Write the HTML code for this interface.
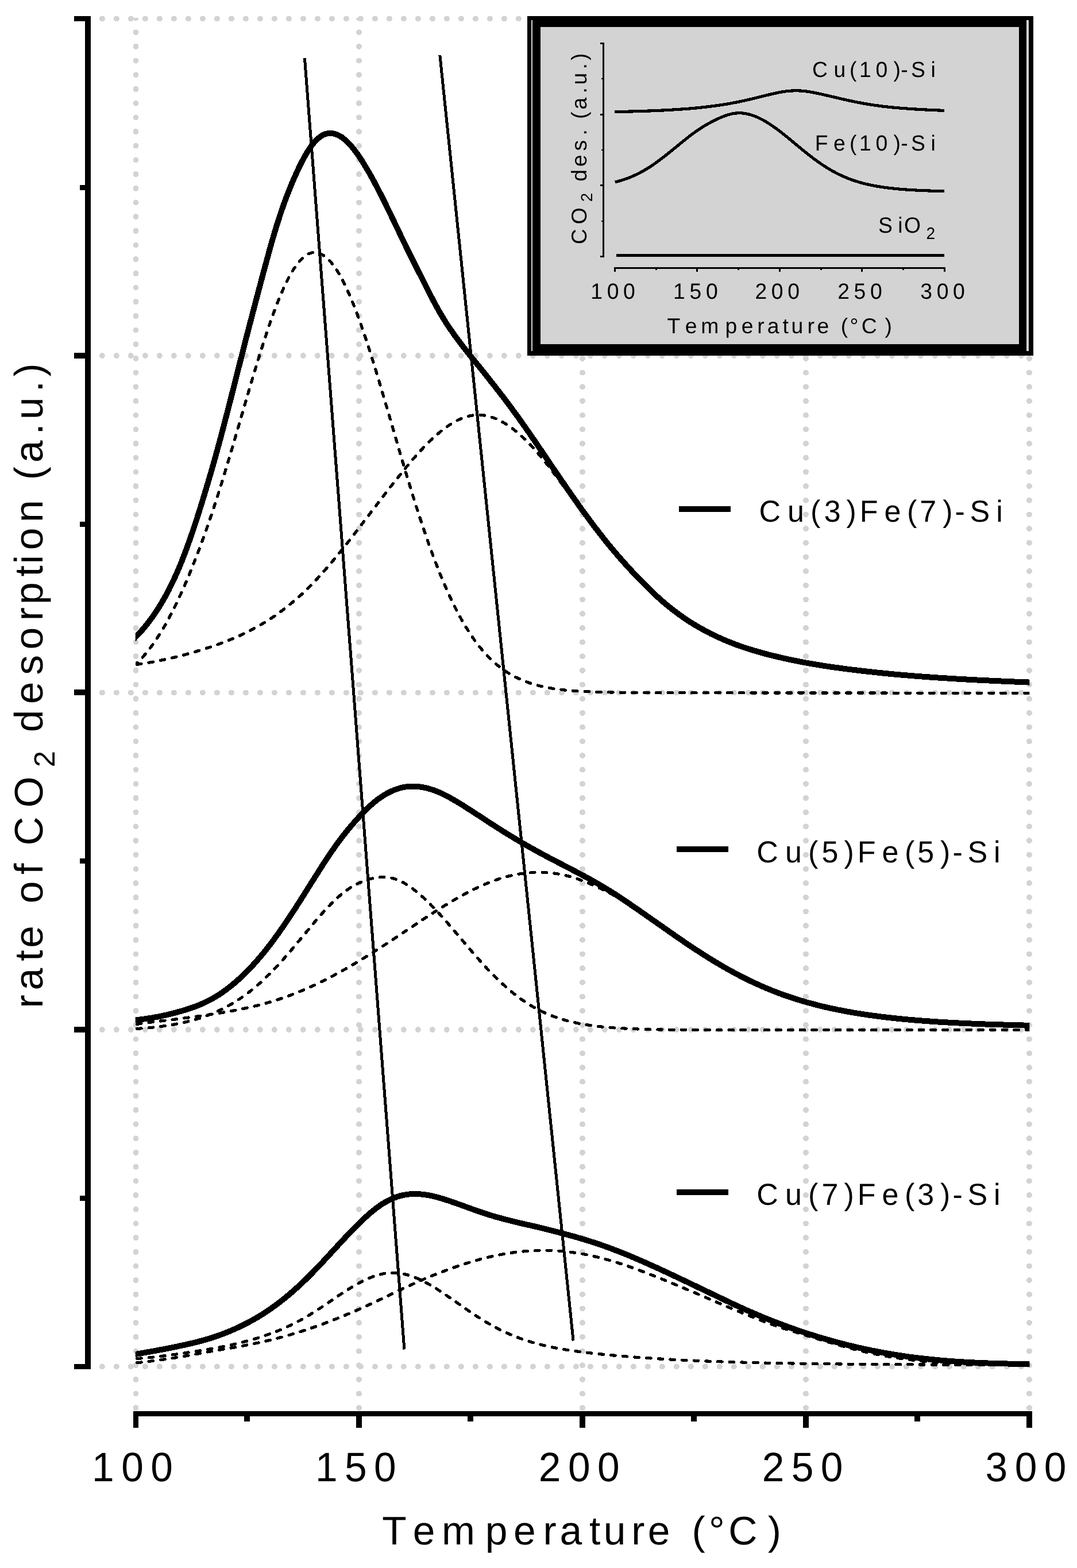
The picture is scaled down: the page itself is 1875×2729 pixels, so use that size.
<!DOCTYPE html>
<html lang="en"><head><meta charset="utf-8"><title>CO2 TPD</title>
<style>html,body{margin:0;padding:0;background:#fff}body{width:1875px;height:2729px;overflow:hidden}svg{display:block}text{white-space:pre;font-kerning:none;font-variant-ligatures:none;text-rendering:geometricPrecision}</style></head>
<body>
<svg width="1875" height="2729" viewBox="0 0 1875 2729" shape-rendering="crispEdges" role="img" aria-label="CO2 temperature-programmed desorption profiles">
<rect width="1875" height="2729" fill="#fff"/>
<defs><clipPath id="gc"><rect x="160" y="31" width="1700" height="2425"/></clipPath></defs>
<g fill="none" stroke="#d3d3d3" stroke-width="9.9" stroke-linecap="round">
<path d="M177.8 32.5H1792" stroke-dasharray="0 25"/>
<path d="M177.8 619.0H1792" stroke-dasharray="0 25"/>
<path d="M177.8 1205.5H1792" stroke-dasharray="0 25"/>
<path d="M177.8 1792.0H1792" stroke-dasharray="0 25"/>
<path d="M177.8 2378.4H1792" stroke-dasharray="0 25"/>
<g clip-path="url(#gc)">
<path d="M236.5 31.6V2456" stroke-dasharray="0 24.68"/>
<path d="M625.0 31.6V2456" stroke-dasharray="0 24.68"/>
<path d="M1014.0 31.6V2456" stroke-dasharray="0 24.68"/>
<path d="M1403.0 31.6V2456" stroke-dasharray="0 24.68"/>
<path d="M1791.9 31.6V2456" stroke-dasharray="0 24.68"/>
</g></g>
<g fill="none" stroke="#000">
<g stroke-width="5.2" stroke-dasharray="7.6 13.1" stroke-linecap="round">
<clipPath id="cc"><rect x="235.7" y="0" width="1556.6" height="2729"/></clipPath>
<g clip-path="url(#cc)">
<path id="top_d1" d="M238.5 1154.1C243.2 1149.5 247.9 1144.5 252.5 1139.0C257.2 1133.5 261.9 1127.4 266.6 1120.9C271.2 1114.3 275.9 1107.2 280.6 1099.5C285.3 1091.9 289.9 1083.7 294.6 1074.9C299.3 1066.1 304.0 1056.8 308.7 1047.0C313.3 1037.2 318.0 1026.8 322.7 1016.0C327.4 1005.1 332.0 993.8 336.7 981.9C341.4 970.1 346.1 957.9 350.8 945.2C355.4 932.5 360.1 919.4 364.8 905.7C369.5 892.1 374.1 877.8 378.8 863.2C383.5 848.5 388.2 833.4 392.8 817.9C397.5 802.5 402.2 786.7 406.9 770.8C411.6 754.8 416.2 738.7 420.9 722.6C425.6 706.5 430.3 690.3 434.9 674.4C439.6 658.5 444.3 642.9 449.0 627.6C453.7 612.3 458.3 597.5 463.0 583.3C467.7 569.1 472.4 555.6 477.0 542.9C481.7 530.3 486.4 518.5 491.1 507.7C495.7 497.0 500.4 487.3 505.1 478.9C509.8 470.5 514.5 463.2 519.1 457.4C523.8 451.6 528.5 447.1 533.2 444.1C537.8 441.0 542.5 439.5 547.2 439.4C551.9 439.3 556.5 440.6 561.2 443.3C565.9 446.0 570.6 450.0 575.3 455.3C579.9 460.6 584.6 467.2 589.3 475.0C594.0 482.8 598.6 491.8 603.3 501.8C608.0 511.9 612.7 523.0 617.4 535.0C622.0 546.9 626.7 559.8 631.4 573.4C636.1 587.0 640.7 601.2 645.4 616.0C650.1 630.8 654.8 646.1 659.4 661.7C664.1 677.3 668.8 693.2 673.5 709.3C678.2 725.3 682.8 741.4 687.5 757.5C692.2 773.6 696.9 789.7 701.5 805.5C706.2 821.3 710.9 836.9 715.6 852.1C720.2 867.3 724.9 882.2 729.6 896.7C734.3 911.1 739.0 925.1 743.6 938.5C748.3 951.9 753.0 964.8 757.7 977.1C762.3 989.4 767.0 1001.1 771.7 1012.2C776.4 1023.3 781.1 1033.8 785.7 1043.7C790.4 1053.6 795.1 1062.8 799.8 1071.5C804.4 1080.1 809.1 1088.2 813.8 1095.6C818.5 1103.1 823.1 1110.0 827.8 1116.4C832.5 1122.7 837.2 1128.6 841.9 1134.0C846.5 1139.3 851.2 1144.2 855.9 1148.7C860.6 1153.1 865.2 1157.1 869.9 1160.8C874.6 1164.4 879.3 1167.7 884.0 1170.7C888.6 1173.7 893.3 1176.3 898.0 1178.7C902.7 1181.0 907.3 1183.1 912.0 1185.0C916.7 1186.9 921.4 1188.5 926.0 1190.0C930.7 1191.5 935.4 1192.8 940.1 1193.9C944.8 1195.0 949.4 1196.0 954.1 1196.9C958.8 1197.8 963.5 1198.5 968.1 1199.2C972.8 1199.8 977.5 1200.4 982.2 1200.9C986.8 1201.4 991.5 1201.8 996.2 1202.2C1000.9 1202.5 1005.6 1202.9 1010.2 1203.1C1014.9 1203.4 1019.6 1203.6 1024.3 1203.8C1028.9 1204.0 1033.6 1204.2 1038.3 1204.4C1043.0 1204.5 1047.7 1204.6 1052.3 1204.7C1057.0 1204.8 1061.7 1204.9 1066.4 1205.0C1071.0 1205.1 1075.7 1205.1 1080.4 1205.2C1085.1 1205.3 1089.7 1205.3 1094.4 1205.3C1099.1 1205.4 1103.8 1205.4 1108.5 1205.5C1113.1 1205.5 1117.8 1205.5 1122.5 1205.5C1127.2 1205.6 1131.8 1205.6 1136.5 1205.6C1141.2 1205.6 1145.9 1205.6 1150.5 1205.6C1155.2 1205.7 1159.9 1205.7 1164.6 1205.7C1169.3 1205.7 1173.9 1205.7 1178.6 1205.7C1183.3 1205.7 1188.0 1205.7 1192.6 1205.7C1197.3 1205.7 1202.0 1205.8 1206.7 1205.8C1211.4 1205.8 1216.0 1205.8 1220.7 1205.8C1225.4 1205.8 1230.1 1205.8 1234.7 1205.8C1239.4 1205.8 1244.1 1205.8 1248.8 1205.8C1253.4 1205.8 1258.1 1205.8 1262.8 1205.8C1267.5 1205.8 1272.2 1205.8 1276.8 1205.8C1281.5 1205.8 1286.2 1205.8 1290.9 1205.9C1295.5 1205.9 1300.2 1205.9 1304.9 1205.9C1309.6 1205.9 1314.3 1205.9 1318.9 1205.9C1323.6 1205.9 1328.3 1205.9 1333.0 1205.9C1337.6 1205.9 1342.3 1205.9 1347.0 1205.9C1351.7 1205.9 1356.3 1205.9 1361.0 1205.9C1365.7 1205.9 1370.4 1205.9 1375.1 1205.9C1379.7 1205.9 1384.4 1205.9 1389.1 1205.9C1393.8 1205.9 1398.4 1205.9 1403.1 1205.9C1407.8 1206.0 1412.5 1206.0 1417.1 1206.0C1421.8 1206.0 1426.5 1206.0 1431.2 1206.0C1435.9 1206.0 1440.5 1206.0 1445.2 1206.0C1449.9 1206.0 1454.6 1206.0 1459.2 1206.0C1463.9 1206.0 1468.6 1206.0 1473.3 1206.0C1478.0 1206.0 1482.6 1206.0 1487.3 1206.0C1492.0 1206.0 1496.7 1206.0 1501.3 1206.0C1506.0 1206.0 1510.7 1206.0 1515.4 1206.0C1520.0 1206.0 1524.7 1206.0 1529.4 1206.0C1534.1 1206.1 1538.8 1206.1 1543.4 1206.1C1548.1 1206.1 1552.8 1206.1 1557.5 1206.1C1562.1 1206.1 1566.8 1206.1 1571.5 1206.1C1576.2 1206.1 1580.8 1206.1 1585.5 1206.1C1590.2 1206.1 1594.9 1206.1 1599.6 1206.1C1604.2 1206.1 1608.9 1206.1 1613.6 1206.1C1618.3 1206.1 1622.9 1206.1 1627.6 1206.1C1632.3 1206.1 1637.0 1206.1 1641.7 1206.1C1646.3 1206.1 1651.0 1206.1 1655.7 1206.2C1660.4 1206.2 1665.0 1206.2 1669.7 1206.2C1674.4 1206.2 1679.1 1206.2 1683.7 1206.2C1688.4 1206.2 1693.1 1206.2 1697.8 1206.2C1702.5 1206.2 1707.1 1206.2 1711.8 1206.2C1716.5 1206.2 1721.2 1206.2 1725.8 1206.2C1730.5 1206.2 1735.2 1206.2 1739.9 1206.2C1744.6 1206.2 1749.2 1206.2 1753.9 1206.2C1758.6 1206.2 1763.3 1206.2 1767.9 1206.2C1772.6 1206.2 1777.3 1206.2 1782.0 1206.3C1786.6 1206.3 1791.3 1206.3 1796.0 1206.3" stroke-dashoffset="6.50"/>
<path id="top_d2" d="M238.5 1156.4C243.2 1155.7 247.9 1155.1 252.6 1154.3C257.2 1153.6 261.9 1152.8 266.6 1152.0C271.3 1151.1 276.0 1150.1 280.6 1149.1C285.3 1148.2 290.0 1147.2 294.7 1146.1C299.4 1145.1 304.1 1144.0 308.8 1142.9C313.4 1141.7 318.1 1140.5 322.8 1139.2C327.5 1137.9 332.2 1136.6 336.9 1135.2C341.5 1133.8 346.2 1132.4 350.9 1131.0C355.6 1129.5 360.3 1128.0 364.9 1126.5C369.6 1124.9 374.3 1123.4 379.0 1121.7C383.7 1120.0 388.4 1118.3 393.1 1116.5C397.7 1114.6 402.4 1112.7 407.1 1110.8C411.8 1108.8 416.5 1106.7 421.1 1104.5C425.8 1102.3 430.5 1100.0 435.2 1097.6C439.9 1095.2 444.6 1092.7 449.2 1090.1C453.9 1087.4 458.6 1084.7 463.3 1081.7C468.0 1078.8 472.7 1075.8 477.4 1072.6C482.0 1069.4 486.7 1066.0 491.4 1062.5C496.1 1059.0 500.8 1055.3 505.4 1051.5C510.1 1047.6 514.8 1043.6 519.5 1039.5C524.2 1035.3 528.9 1030.9 533.5 1026.3C538.2 1021.8 542.9 1017.0 547.6 1012.1C552.3 1007.2 557.0 1002.1 561.7 996.8C566.3 991.6 571.0 986.2 575.7 980.6C580.4 975.1 585.1 969.5 589.8 963.7C594.4 957.9 599.1 952.1 603.8 946.2C608.5 940.2 613.2 934.2 617.9 928.2C622.5 922.1 627.2 916.0 631.9 909.9C636.6 903.8 641.3 897.6 646.0 891.5C650.6 885.3 655.3 879.2 660.0 873.1C664.7 866.9 669.4 860.8 674.0 854.8C678.7 848.8 683.4 842.8 688.1 836.9C692.8 830.9 697.5 825.1 702.2 819.4C706.8 813.6 711.5 808.0 716.2 802.5C720.9 797.1 725.6 791.7 730.2 786.6C734.9 781.5 739.6 776.5 744.3 771.8C749.0 767.1 753.7 762.7 758.4 758.5C763.0 754.3 767.7 750.4 772.4 746.8C777.1 743.2 781.8 740.0 786.5 737.1C791.1 734.2 795.8 731.7 800.5 729.6C805.2 727.5 809.9 725.8 814.6 724.6C819.2 723.4 823.9 722.6 828.6 722.4C833.3 722.1 838.0 722.3 842.6 723.0C847.3 723.6 852.0 724.8 856.7 726.3C861.4 727.9 866.1 729.9 870.8 732.3C875.4 734.7 880.1 737.5 884.8 740.6C889.5 743.8 894.2 747.3 898.9 751.2C903.5 755.0 908.2 759.2 912.9 763.6C917.6 768.0 922.3 772.8 927.0 777.8C931.6 782.9 936.3 788.4 941.0 794.1C945.7 799.8 950.4 805.3 955.1 811.5C959.7 817.6 964.4 823.8 969.1 830.1C973.8 836.4 978.5 842.8 983.2 849.1C987.8 855.4 992.5 861.8 997.2 868.1C1001.9 874.4 1006.6 880.7 1011.2 886.9C1015.9 893.2 1020.6 899.4 1025.3 905.5C1030.0 911.7 1034.7 917.7 1039.3 923.7C1044.0 929.6 1048.7 935.5 1053.4 941.2C1058.1 947.0 1062.8 952.6 1067.5 958.1C1072.1 963.6 1076.8 969.0 1081.5 974.2C1086.2 979.5 1090.9 984.6 1095.6 989.7C1100.2 994.7 1104.9 999.6 1109.6 1004.5C1114.3 1009.3 1119.0 1014.0 1123.7 1018.7C1128.3 1023.3 1133.0 1027.9 1137.7 1032.3C1142.4 1036.8 1147.1 1041.1 1151.8 1045.2C1156.4 1049.4 1161.1 1053.3 1165.8 1057.0C1170.5 1060.8 1175.2 1064.4 1179.8 1067.8C1184.5 1071.2 1189.2 1074.5 1193.9 1077.6C1198.6 1080.8 1203.3 1083.7 1208.0 1086.6C1212.6 1089.4 1217.3 1092.2 1222.0 1094.7C1226.7 1097.3 1231.4 1099.8 1236.1 1102.2C1240.7 1104.5 1245.4 1106.8 1250.1 1108.9C1254.8 1111.1 1259.5 1113.1 1264.2 1115.1C1268.8 1117.0 1273.5 1118.9 1278.2 1120.7C1282.9 1122.4 1287.6 1124.1 1292.2 1125.7C1296.9 1127.3 1301.6 1128.8 1306.3 1130.3C1311.0 1131.7 1315.7 1133.1 1320.4 1134.5C1325.0 1135.8 1329.7 1137.1 1334.4 1138.3C1339.1 1139.5 1343.8 1140.7 1348.5 1141.8C1353.1 1143.0 1357.8 1144.1 1362.5 1145.1C1367.2 1146.2 1371.9 1147.2 1376.5 1148.2C1381.2 1149.2 1385.9 1150.1 1390.6 1151.0C1395.3 1151.9 1400.0 1152.8 1404.7 1153.6C1409.3 1154.5 1414.0 1155.3 1418.7 1156.1C1423.4 1156.9 1428.1 1157.6 1432.8 1158.3C1437.4 1159.1 1442.1 1159.8 1446.8 1160.5C1451.5 1161.1 1456.2 1161.8 1460.9 1162.4C1465.5 1163.1 1470.2 1163.7 1474.9 1164.3C1479.6 1164.9 1484.3 1165.4 1489.0 1166.0C1493.6 1166.6 1498.3 1167.1 1503.0 1167.6C1507.7 1168.2 1512.4 1168.7 1517.0 1169.2C1521.7 1169.7 1526.4 1170.2 1531.1 1170.7C1535.8 1171.2 1540.5 1171.7 1545.2 1172.1C1549.8 1172.6 1554.5 1173.0 1559.2 1173.4C1563.9 1173.9 1568.6 1174.3 1573.2 1174.7C1577.9 1175.1 1582.6 1175.5 1587.3 1175.8C1592.0 1176.2 1596.7 1176.6 1601.4 1176.9C1606.0 1177.3 1610.7 1177.6 1615.4 1178.0C1620.1 1178.3 1624.8 1178.6 1629.5 1178.9C1634.1 1179.3 1638.8 1179.6 1643.5 1179.9C1648.2 1180.1 1652.9 1180.4 1657.6 1180.7C1662.2 1181.0 1666.9 1181.3 1671.6 1181.5C1676.3 1181.8 1681.0 1182.1 1685.7 1182.3C1690.3 1182.6 1695.0 1182.8 1699.7 1183.0C1704.4 1183.3 1709.1 1183.5 1713.8 1183.7C1718.4 1184.0 1723.1 1184.2 1727.8 1184.4C1732.5 1184.6 1737.2 1184.8 1741.9 1185.0C1746.5 1185.2 1751.2 1185.5 1755.9 1185.7C1760.6 1185.8 1765.3 1186.0 1770.0 1186.2C1774.6 1186.4 1779.3 1186.6 1784.0 1186.8"/>
<path id="mid_d1" d="M238.5 1790.4C243.2 1790.1 247.9 1789.7 252.5 1789.4C257.2 1789.0 261.9 1788.5 266.6 1788.1C271.2 1787.6 275.9 1787.0 280.6 1786.4C285.3 1785.8 289.9 1785.1 294.6 1784.4C299.3 1783.7 304.0 1782.8 308.7 1781.9C313.3 1781.0 318.0 1780.0 322.7 1778.9C327.4 1777.8 332.0 1776.7 336.7 1775.3C341.4 1774.0 346.1 1772.6 350.8 1771.1C355.4 1769.5 360.1 1767.8 364.8 1766.0C369.5 1764.1 374.1 1762.2 378.8 1760.0C383.5 1757.9 388.2 1755.6 392.8 1753.1C397.5 1750.6 402.2 1748.0 406.9 1745.1C411.6 1742.3 416.2 1739.3 420.9 1736.1C425.6 1732.8 430.3 1729.4 434.9 1725.7C439.6 1722.1 444.3 1718.2 449.0 1714.1C453.7 1710.1 458.3 1705.8 463.0 1701.3C467.7 1696.7 472.4 1692.0 477.0 1687.1C481.7 1682.3 486.4 1677.2 491.1 1672.0C495.7 1666.7 500.4 1661.4 505.1 1655.9C509.8 1650.4 514.5 1644.9 519.1 1639.2C523.8 1633.6 528.5 1627.9 533.2 1622.3C537.8 1616.7 542.5 1611.0 547.2 1605.5C551.9 1600.0 556.5 1594.6 561.2 1589.4C565.9 1584.1 570.6 1579.1 575.3 1574.4C579.9 1569.6 584.6 1565.1 589.3 1560.9C594.0 1556.8 598.6 1553.0 603.3 1549.6C608.0 1546.2 612.7 1543.2 617.4 1540.6C622.0 1538.1 626.7 1535.9 631.4 1534.1C636.1 1532.2 640.7 1530.7 645.4 1529.5C650.1 1528.3 654.8 1527.4 659.4 1526.9C664.1 1526.5 668.8 1526.4 673.5 1526.8C678.2 1527.2 682.8 1528.2 687.5 1529.7C692.2 1531.2 696.9 1533.2 701.5 1535.8C706.2 1538.3 710.9 1541.3 715.6 1544.6C720.2 1548.0 724.9 1551.7 729.6 1555.7C734.3 1559.7 739.0 1564.0 743.6 1568.4C748.3 1572.9 753.0 1577.6 757.7 1582.6C762.3 1587.5 767.0 1592.6 771.7 1597.9C776.4 1603.1 781.1 1608.5 785.7 1614.0C790.4 1619.4 795.1 1625.0 799.8 1630.5C804.4 1636.1 809.1 1641.6 813.8 1647.1C818.5 1652.6 823.1 1658.0 827.8 1663.4C832.5 1668.7 837.2 1674.0 841.9 1679.1C846.5 1684.2 851.2 1689.2 855.9 1694.0C860.6 1698.8 865.2 1703.4 869.9 1707.8C874.6 1712.2 879.3 1716.5 884.0 1720.5C888.6 1724.6 893.3 1728.4 898.0 1732.0C902.7 1735.6 907.3 1739.0 912.0 1742.2C916.7 1745.4 921.4 1748.3 926.0 1751.1C930.7 1753.9 935.4 1756.4 940.1 1758.8C944.8 1761.1 949.4 1763.3 954.1 1765.2C958.8 1767.2 963.5 1769.0 968.1 1770.6C972.8 1772.2 977.5 1773.7 982.2 1775.0C986.8 1776.4 991.5 1777.6 996.2 1778.7C1000.9 1779.8 1005.6 1780.8 1010.2 1781.7C1014.9 1782.6 1019.6 1783.4 1024.3 1784.1C1028.9 1784.8 1033.6 1785.5 1038.3 1786.0C1043.0 1786.6 1047.7 1787.1 1052.3 1787.6C1057.0 1788.0 1061.7 1788.4 1066.4 1788.7C1071.0 1789.1 1075.7 1789.4 1080.4 1789.6C1085.1 1789.9 1089.7 1790.1 1094.4 1790.4C1099.1 1790.6 1103.8 1790.8 1108.5 1790.9C1113.1 1791.1 1117.8 1791.3 1122.5 1791.4C1127.2 1791.5 1131.8 1791.6 1136.5 1791.7C1141.2 1791.8 1145.9 1791.9 1150.5 1792.0C1155.2 1792.1 1159.9 1792.1 1164.6 1792.2C1169.3 1792.2 1173.9 1792.3 1178.6 1792.3C1183.3 1792.4 1188.0 1792.4 1192.6 1792.4C1197.3 1792.5 1202.0 1792.5 1206.7 1792.5C1211.4 1792.5 1216.0 1792.6 1220.7 1792.6C1225.4 1792.6 1230.1 1792.6 1234.7 1792.6C1239.4 1792.6 1244.1 1792.6 1248.8 1792.6C1253.4 1792.6 1258.1 1792.7 1262.8 1792.7C1267.5 1792.7 1272.2 1792.7 1276.8 1792.7C1281.5 1792.7 1286.2 1792.7 1290.9 1792.7C1295.5 1792.7 1300.2 1792.7 1304.9 1792.7C1309.6 1792.7 1314.3 1792.7 1318.9 1792.7C1323.6 1792.7 1328.3 1792.7 1333.0 1792.7C1337.6 1792.7 1342.3 1792.7 1347.0 1792.7C1351.7 1792.7 1356.3 1792.7 1361.0 1792.7C1365.7 1792.7 1370.4 1792.7 1375.1 1792.6C1379.7 1792.6 1384.4 1792.6 1389.1 1792.6C1393.8 1792.6 1398.4 1792.6 1403.1 1792.6C1407.8 1792.6 1412.5 1792.6 1417.1 1792.6C1421.8 1792.6 1426.5 1792.6 1431.2 1792.6C1435.9 1792.6 1440.5 1792.6 1445.2 1792.6C1449.9 1792.6 1454.6 1792.6 1459.2 1792.6C1463.9 1792.6 1468.6 1792.6 1473.3 1792.6C1478.0 1792.6 1482.6 1792.6 1487.3 1792.6C1492.0 1792.6 1496.7 1792.6 1501.3 1792.6C1506.0 1792.6 1510.7 1792.6 1515.4 1792.6C1520.0 1792.6 1524.7 1792.6 1529.4 1792.6C1534.1 1792.5 1538.8 1792.5 1543.4 1792.5C1548.1 1792.5 1552.8 1792.5 1557.5 1792.5C1562.1 1792.5 1566.8 1792.5 1571.5 1792.5C1576.2 1792.5 1580.8 1792.5 1585.5 1792.5C1590.2 1792.5 1594.9 1792.5 1599.6 1792.5C1604.2 1792.5 1608.9 1792.5 1613.6 1792.5C1618.3 1792.5 1622.9 1792.5 1627.6 1792.5C1632.3 1792.5 1637.0 1792.5 1641.7 1792.5C1646.3 1792.5 1651.0 1792.5 1655.7 1792.5C1660.4 1792.5 1665.0 1792.5 1669.7 1792.5C1674.4 1792.5 1679.1 1792.5 1683.7 1792.4C1688.4 1792.4 1693.1 1792.4 1697.8 1792.4C1702.5 1792.4 1707.1 1792.4 1711.8 1792.4C1716.5 1792.4 1721.2 1792.4 1725.8 1792.4C1730.5 1792.4 1735.2 1792.4 1739.9 1792.4C1744.6 1792.4 1749.2 1792.4 1753.9 1792.4C1758.6 1792.4 1763.3 1792.4 1767.9 1792.4C1772.6 1792.4 1777.3 1792.4 1782.0 1792.4C1786.6 1792.4 1791.3 1792.4 1796.0 1792.4"/>
<path id="mid_d2" d="M238.5 1782.4C243.2 1781.6 247.9 1781.0 252.6 1780.3C257.2 1779.7 261.9 1779.2 266.6 1778.6C271.3 1778.0 276.0 1777.5 280.6 1776.9C285.3 1776.4 290.0 1775.8 294.7 1775.2C299.4 1774.7 304.1 1774.1 308.8 1773.5C313.4 1772.9 318.1 1772.3 322.8 1771.7C327.5 1771.1 332.2 1770.5 336.9 1769.8C341.5 1769.2 346.2 1768.5 350.9 1767.9C355.6 1767.2 360.3 1766.5 364.9 1765.8C369.6 1765.1 374.3 1764.4 379.0 1763.6C383.7 1762.9 388.4 1762.1 393.1 1761.3C397.7 1760.5 402.4 1759.7 407.1 1758.8C411.8 1757.9 416.5 1757.0 421.1 1756.0C425.8 1755.1 430.5 1754.1 435.2 1753.0C439.9 1751.9 444.6 1750.8 449.2 1749.7C453.9 1748.5 458.6 1747.2 463.3 1745.9C468.0 1744.6 472.7 1743.2 477.4 1741.8C482.0 1740.3 486.7 1738.8 491.4 1737.2C496.1 1735.6 500.8 1733.9 505.4 1732.2C510.1 1730.4 514.8 1728.6 519.5 1726.7C524.2 1724.8 528.9 1722.9 533.5 1720.8C538.2 1718.8 542.9 1716.6 547.6 1714.5C552.3 1712.3 557.0 1710.0 561.7 1707.7C566.3 1705.3 571.0 1702.9 575.7 1700.5C580.4 1698.0 585.1 1695.5 589.8 1692.9C594.4 1690.4 599.1 1687.7 603.8 1685.1C608.5 1682.4 613.2 1679.6 617.9 1676.9C622.5 1674.1 627.2 1671.3 631.9 1668.4C636.6 1665.5 641.3 1662.6 646.0 1659.7C650.6 1656.8 655.3 1653.8 660.0 1650.8C664.7 1647.8 669.4 1644.8 674.0 1641.7C678.7 1638.6 683.4 1635.6 688.1 1632.5C692.8 1629.4 697.5 1626.2 702.2 1623.1C706.8 1620.0 711.5 1616.8 716.2 1613.7C720.9 1610.6 725.6 1607.5 730.2 1604.3C734.9 1601.2 739.6 1598.1 744.3 1595.1C749.0 1592.0 753.7 1589.0 758.4 1586.0C763.0 1583.0 767.7 1580.1 772.4 1577.2C777.1 1574.3 781.8 1571.5 786.5 1568.7C791.1 1566.0 795.8 1563.3 800.5 1560.7C805.2 1558.0 809.9 1555.5 814.6 1553.1C819.2 1550.6 823.9 1548.3 828.6 1546.1C833.3 1543.8 838.0 1541.7 842.6 1539.7C847.3 1537.7 852.0 1535.8 856.7 1534.0C861.4 1532.3 866.1 1530.6 870.8 1529.1C875.4 1527.7 880.1 1526.3 884.8 1525.1C889.5 1524.0 894.2 1522.9 898.9 1522.0C903.5 1521.1 908.2 1520.4 912.9 1519.8C917.6 1519.3 922.3 1518.9 927.0 1518.6C931.6 1518.3 936.3 1518.2 941.0 1518.3C945.7 1518.4 950.4 1518.6 955.1 1519.0C959.7 1519.4 964.4 1519.9 969.1 1520.6C973.8 1521.4 978.5 1522.3 983.2 1523.3C987.8 1524.4 992.5 1525.6 997.2 1527.0C1001.9 1528.4 1006.6 1530.0 1011.2 1531.8C1015.9 1533.5 1020.6 1535.5 1025.3 1537.4C1030.0 1539.4 1034.7 1541.4 1039.3 1543.5C1044.0 1545.6 1048.7 1547.7 1053.4 1550.1C1058.1 1552.4 1062.8 1555.0 1067.5 1557.6C1072.1 1560.3 1076.8 1563.1 1081.5 1565.9C1086.2 1568.8 1090.9 1571.8 1095.6 1574.7C1100.2 1577.7 1104.9 1580.8 1109.6 1583.8C1114.3 1586.9 1119.0 1590.0 1123.7 1593.2C1128.3 1596.3 1133.0 1599.5 1137.7 1602.7C1142.4 1605.8 1147.1 1609.0 1151.8 1612.3C1156.4 1615.5 1161.1 1618.7 1165.8 1621.9C1170.5 1625.1 1175.2 1628.3 1179.8 1631.5C1184.5 1634.7 1189.2 1637.8 1193.9 1641.0C1198.6 1644.1 1203.3 1647.2 1208.0 1650.3C1212.6 1653.4 1217.3 1656.4 1222.0 1659.4C1226.7 1662.4 1231.4 1665.3 1236.1 1668.2C1240.7 1671.1 1245.4 1674.0 1250.1 1676.7C1254.8 1679.5 1259.5 1682.2 1264.2 1684.9C1268.8 1687.5 1273.5 1690.1 1278.2 1692.7C1282.9 1695.2 1287.6 1697.6 1292.2 1700.0C1296.9 1702.4 1301.6 1704.7 1306.3 1707.0C1311.0 1709.2 1315.7 1711.4 1320.4 1713.5C1325.0 1715.6 1329.7 1717.6 1334.4 1719.6C1339.1 1721.6 1343.8 1723.4 1348.5 1725.3C1353.1 1727.1 1357.8 1728.9 1362.5 1730.6C1367.2 1732.2 1371.9 1733.9 1376.5 1735.4C1381.2 1737.0 1385.9 1738.5 1390.6 1739.9C1395.3 1741.4 1400.0 1742.8 1404.7 1744.1C1409.3 1745.4 1414.0 1746.7 1418.7 1747.9C1423.4 1749.1 1428.1 1750.3 1432.8 1751.4C1437.4 1752.5 1442.1 1753.6 1446.8 1754.6C1451.5 1755.7 1456.2 1756.6 1460.9 1757.6C1465.5 1758.5 1470.2 1759.4 1474.9 1760.3C1479.6 1761.1 1484.3 1761.9 1489.0 1762.7C1493.6 1763.5 1498.3 1764.3 1503.0 1765.0C1507.7 1765.7 1512.4 1766.4 1517.0 1767.0C1521.7 1767.7 1526.4 1768.3 1531.1 1768.9C1535.8 1769.5 1540.5 1770.0 1545.2 1770.6C1549.8 1771.1 1554.5 1771.6 1559.2 1772.1C1563.9 1772.6 1568.6 1773.1 1573.2 1773.6C1577.9 1774.0 1582.6 1774.4 1587.3 1774.8C1592.0 1775.3 1596.7 1775.6 1601.4 1776.0C1606.0 1776.4 1610.7 1776.7 1615.4 1777.1C1620.1 1777.4 1624.8 1777.7 1629.5 1778.1C1634.1 1778.4 1638.8 1778.7 1643.5 1778.9C1648.2 1779.2 1652.9 1779.5 1657.6 1779.7C1662.2 1780.0 1666.9 1780.3 1671.6 1780.5C1676.3 1780.7 1681.0 1780.9 1685.7 1781.2C1690.3 1781.4 1695.0 1781.6 1699.7 1781.8C1704.4 1782.0 1709.1 1782.1 1713.8 1782.3C1718.4 1782.5 1723.1 1782.7 1727.8 1782.8C1732.5 1783.0 1737.2 1783.1 1741.9 1783.3C1746.5 1783.4 1751.2 1783.6 1755.9 1783.7C1760.6 1783.8 1765.3 1784.0 1770.0 1784.1C1774.6 1784.2 1779.3 1784.3 1784.0 1784.4"/>
<path id="bot_d1" d="M238.5 2364.5C243.2 2364.2 247.9 2363.9 252.5 2363.5C257.2 2363.1 261.9 2362.6 266.6 2362.1C271.2 2361.6 275.9 2361.1 280.6 2360.5C285.3 2359.9 289.9 2359.3 294.6 2358.7C299.3 2358.0 304.0 2357.4 308.7 2356.7C313.3 2356.0 318.0 2355.3 322.7 2354.7C327.4 2354.0 332.0 2353.3 336.7 2352.6C341.4 2351.9 346.1 2351.2 350.8 2350.4C355.4 2349.7 360.1 2348.9 364.8 2348.1C369.5 2347.3 374.1 2346.4 378.8 2345.5C383.5 2344.6 388.2 2343.7 392.8 2342.7C397.5 2341.8 402.2 2340.7 406.9 2339.7C411.6 2338.6 416.2 2337.5 420.9 2336.3C425.6 2335.2 430.3 2333.9 434.9 2332.6C439.6 2331.3 444.3 2329.9 449.0 2328.5C453.7 2327.0 458.3 2325.5 463.0 2323.9C467.7 2322.3 472.4 2320.6 477.0 2318.8C481.7 2317.1 486.4 2315.2 491.1 2313.2C495.7 2311.2 500.4 2309.1 505.1 2306.9C509.8 2304.6 514.5 2302.3 519.1 2299.8C523.8 2297.3 528.5 2294.7 533.2 2291.9C537.8 2289.2 542.5 2286.3 547.2 2283.4C551.9 2280.4 556.5 2277.3 561.2 2274.2C565.9 2271.1 570.6 2267.9 575.3 2264.7C579.9 2261.5 584.6 2258.3 589.3 2255.1C594.0 2252.0 598.6 2248.9 603.3 2245.9C608.0 2243.0 612.7 2240.1 617.4 2237.4C622.0 2234.7 626.7 2232.1 631.4 2229.7C636.1 2227.4 640.7 2225.3 645.4 2223.4C650.1 2221.5 654.8 2219.9 659.4 2218.7C664.1 2217.4 668.8 2216.5 673.5 2215.9C678.2 2215.4 682.8 2215.2 687.5 2215.4C692.2 2215.6 696.9 2216.1 701.5 2217.0C706.2 2217.9 710.9 2219.2 715.6 2220.8C720.2 2222.3 724.9 2224.2 729.6 2226.3C734.3 2228.4 739.0 2230.8 743.6 2233.4C748.3 2235.9 753.0 2238.7 757.7 2241.6C762.3 2244.5 767.0 2247.6 771.7 2250.7C776.4 2253.9 781.1 2257.1 785.7 2260.4C790.4 2263.6 795.1 2266.9 799.8 2270.2C804.4 2273.5 809.1 2276.7 813.8 2279.9C818.5 2283.2 823.1 2286.3 827.8 2289.4C832.5 2292.4 837.2 2295.4 841.9 2298.3C846.5 2301.1 851.2 2303.9 855.9 2306.5C860.6 2309.1 865.2 2311.6 869.9 2313.9C874.6 2316.3 879.3 2318.5 884.0 2320.6C888.6 2322.7 893.3 2324.6 898.0 2326.5C902.7 2328.3 907.3 2330.0 912.0 2331.6C916.7 2333.2 921.4 2334.7 926.0 2336.1C930.7 2337.4 935.4 2338.7 940.1 2339.9C944.8 2341.1 949.4 2342.2 954.1 2343.2C958.8 2344.3 963.5 2345.2 968.1 2346.1C972.8 2347.0 977.5 2347.8 982.2 2348.6C986.8 2349.4 991.5 2350.1 996.2 2350.8C1000.9 2351.5 1005.6 2352.1 1010.2 2352.7C1014.9 2353.3 1019.6 2353.9 1024.3 2354.5C1028.9 2355.0 1033.6 2355.5 1038.3 2356.0C1043.0 2356.6 1047.7 2357.0 1052.3 2357.5C1057.0 2358.0 1061.7 2358.4 1066.4 2358.8C1071.0 2359.2 1075.7 2359.7 1080.4 2360.1C1085.1 2360.5 1089.7 2360.8 1094.4 2361.2C1099.1 2361.6 1103.8 2361.9 1108.5 2362.3C1113.1 2362.6 1117.8 2363.0 1122.5 2363.3C1127.2 2363.6 1131.8 2363.9 1136.5 2364.2C1141.2 2364.5 1145.9 2364.8 1150.5 2365.1C1155.2 2365.4 1159.9 2365.6 1164.6 2365.9C1169.3 2366.2 1173.9 2366.4 1178.6 2366.7C1183.3 2366.9 1188.0 2367.1 1192.6 2367.4C1197.3 2367.6 1202.0 2367.8 1206.7 2368.0C1211.4 2368.2 1216.0 2368.4 1220.7 2368.6C1225.4 2368.8 1230.1 2369.0 1234.7 2369.2C1239.4 2369.4 1244.1 2369.6 1248.8 2369.7C1253.4 2369.9 1258.1 2370.0 1262.8 2370.2C1267.5 2370.4 1272.2 2370.5 1276.8 2370.6C1281.5 2370.8 1286.2 2370.9 1290.9 2371.0C1295.5 2371.2 1300.2 2371.3 1304.9 2371.4C1309.6 2371.5 1314.3 2371.7 1318.9 2371.8C1323.6 2371.9 1328.3 2372.0 1333.0 2372.1C1337.6 2372.2 1342.3 2372.3 1347.0 2372.4C1351.7 2372.5 1356.3 2372.5 1361.0 2372.6C1365.7 2372.7 1370.4 2372.8 1375.1 2372.9C1379.7 2372.9 1384.4 2373.0 1389.1 2373.1C1393.8 2373.1 1398.4 2373.2 1403.1 2373.3C1407.8 2373.3 1412.5 2373.4 1417.1 2373.5C1421.8 2373.5 1426.5 2373.6 1431.2 2373.6C1435.9 2373.7 1440.5 2373.7 1445.2 2373.8C1449.9 2373.8 1454.6 2373.9 1459.2 2373.9C1463.9 2374.0 1468.6 2374.0 1473.3 2374.1C1478.0 2374.1 1482.6 2374.2 1487.3 2374.2C1492.0 2374.2 1496.7 2374.3 1501.3 2374.3C1506.0 2374.3 1510.7 2374.4 1515.4 2374.4C1520.0 2374.5 1524.7 2374.5 1529.4 2374.5C1534.1 2374.5 1538.8 2374.6 1543.4 2374.6C1548.1 2374.6 1552.8 2374.7 1557.5 2374.7C1562.1 2374.7 1566.8 2374.8 1571.5 2374.8C1576.2 2374.8 1580.8 2374.8 1585.5 2374.9C1590.2 2374.9 1594.9 2374.9 1599.6 2374.9C1604.2 2375.0 1608.9 2375.0 1613.6 2375.0C1618.3 2375.0 1622.9 2375.1 1627.6 2375.1C1632.3 2375.1 1637.0 2375.1 1641.7 2375.2C1646.3 2375.2 1651.0 2375.2 1655.7 2375.2C1660.4 2375.3 1665.0 2375.3 1669.7 2375.3C1674.4 2375.3 1679.1 2375.4 1683.7 2375.4C1688.4 2375.4 1693.1 2375.4 1697.8 2375.4C1702.5 2375.5 1707.1 2375.5 1711.8 2375.5C1716.5 2375.5 1721.2 2375.5 1725.8 2375.6C1730.5 2375.6 1735.2 2375.6 1739.9 2375.6C1744.6 2375.6 1749.2 2375.7 1753.9 2375.7C1758.6 2375.7 1763.3 2375.7 1767.9 2375.8C1772.6 2375.8 1777.3 2375.8 1782.0 2375.8C1786.6 2375.8 1791.3 2375.9 1796.0 2375.9"/>
<path id="bot_d2" d="M238.5 2371.7C243.2 2371.3 247.9 2370.8 252.5 2370.2C257.2 2369.7 261.9 2369.1 266.6 2368.5C271.2 2367.9 275.9 2367.3 280.6 2366.7C285.3 2366.0 289.9 2365.3 294.6 2364.6C299.3 2363.9 304.0 2363.2 308.7 2362.4C313.3 2361.7 318.0 2360.9 322.7 2360.1C327.4 2359.3 332.0 2358.4 336.7 2357.6C341.4 2356.7 346.1 2355.8 350.8 2354.9C355.4 2354.0 360.1 2353.2 364.8 2352.3C369.5 2351.5 374.1 2350.7 378.8 2349.9C383.5 2349.1 388.2 2348.3 392.8 2347.5C397.5 2346.7 402.2 2346.0 406.9 2345.2C411.6 2344.3 416.2 2343.5 420.9 2342.7C425.6 2341.8 430.3 2340.9 434.9 2340.0C439.6 2339.1 444.3 2338.1 449.0 2337.1C453.7 2336.1 458.3 2335.1 463.0 2334.0C467.7 2332.9 472.4 2331.8 477.0 2330.6C481.7 2329.4 486.4 2328.2 491.1 2327.0C495.7 2325.7 500.4 2324.4 505.1 2323.1C509.8 2321.7 514.5 2320.3 519.1 2318.9C523.8 2317.4 528.5 2315.9 533.2 2314.4C537.8 2312.8 542.5 2311.2 547.2 2309.6C551.9 2308.0 556.5 2306.3 561.2 2304.6C565.9 2302.9 570.6 2301.1 575.3 2299.3C579.9 2297.5 584.6 2295.7 589.3 2293.8C594.0 2291.9 598.6 2290.0 603.3 2288.0C608.0 2286.1 612.7 2284.1 617.4 2282.1C622.0 2280.0 626.7 2278.0 631.4 2275.9C636.1 2273.8 640.7 2271.6 645.4 2269.5C650.1 2267.3 654.8 2265.1 659.4 2262.9C664.1 2260.7 668.8 2258.4 673.5 2256.2C678.2 2253.9 682.8 2251.7 687.5 2249.5C692.2 2247.2 696.9 2245.0 701.5 2242.8C706.2 2240.6 710.9 2238.4 715.6 2236.3C720.2 2234.1 724.9 2232.0 729.6 2230.0C734.3 2227.9 739.0 2225.9 743.6 2223.9C748.3 2222.0 753.0 2220.1 757.7 2218.2C762.3 2216.3 767.0 2214.5 771.7 2212.8C776.4 2211.0 781.1 2209.3 785.7 2207.6C790.4 2205.9 795.1 2204.3 799.8 2202.7C804.4 2201.2 809.1 2199.6 813.8 2198.2C818.5 2196.7 823.1 2195.3 827.8 2194.0C832.5 2192.7 837.2 2191.4 841.9 2190.2C846.5 2189.0 851.2 2187.9 855.9 2186.8C860.6 2185.8 865.2 2184.8 869.9 2183.9C874.6 2183.0 879.3 2182.1 884.0 2181.4C888.6 2180.6 893.3 2180.0 898.0 2179.4C902.7 2178.8 907.3 2178.3 912.0 2177.9C916.7 2177.4 921.4 2177.1 926.0 2176.8C930.7 2176.6 935.4 2176.4 940.1 2176.3C944.8 2176.2 949.4 2176.2 954.1 2176.3C958.8 2176.4 963.5 2176.6 968.1 2176.9C972.8 2177.1 977.5 2177.5 982.2 2178.0C986.8 2178.4 991.5 2179.0 996.2 2179.6C1000.9 2180.2 1005.6 2180.9 1010.2 2181.7C1014.9 2182.5 1019.6 2183.4 1024.3 2184.4C1028.9 2185.3 1033.6 2186.4 1038.3 2187.5C1043.0 2188.6 1047.7 2189.8 1052.3 2191.1C1057.0 2192.3 1061.7 2193.7 1066.4 2195.0C1071.0 2196.4 1075.7 2197.9 1080.4 2199.4C1085.1 2200.9 1089.7 2202.5 1094.4 2204.1C1099.1 2205.7 1103.8 2207.4 1108.5 2209.1C1113.1 2210.8 1117.8 2212.6 1122.5 2214.4C1127.2 2216.1 1131.8 2217.9 1136.5 2219.8C1141.2 2221.6 1145.9 2223.5 1150.5 2225.3C1155.2 2227.2 1159.9 2229.1 1164.6 2231.1C1169.3 2233.0 1173.9 2234.9 1178.6 2236.9C1183.3 2238.8 1188.0 2240.8 1192.6 2242.8C1197.3 2244.7 1202.0 2246.7 1206.7 2248.7C1211.4 2250.7 1216.0 2252.7 1220.7 2254.7C1225.4 2256.7 1230.1 2258.8 1234.7 2260.8C1239.4 2262.8 1244.1 2264.8 1248.8 2266.8C1253.4 2268.8 1258.1 2270.8 1262.8 2272.8C1267.5 2274.8 1272.2 2276.7 1276.8 2278.7C1281.5 2280.6 1286.2 2282.6 1290.9 2284.5C1295.5 2286.4 1300.2 2288.3 1304.9 2290.2C1309.6 2292.1 1314.3 2293.9 1318.9 2295.7C1323.6 2297.5 1328.3 2299.3 1333.0 2301.1C1337.6 2302.8 1342.3 2304.5 1347.0 2306.2C1351.7 2307.8 1356.3 2309.4 1361.0 2311.0C1365.7 2312.5 1370.4 2314.0 1375.1 2315.4C1379.7 2316.9 1384.4 2318.3 1389.1 2319.8C1393.8 2321.2 1398.4 2322.6 1403.1 2324.1C1407.8 2325.5 1412.5 2326.9 1417.1 2328.4C1421.8 2329.8 1426.5 2331.2 1431.2 2332.6C1435.9 2334.0 1440.5 2335.4 1445.2 2336.7C1449.9 2338.1 1454.6 2339.4 1459.2 2340.8C1463.9 2342.1 1468.6 2343.4 1473.3 2344.6C1478.0 2345.9 1482.6 2347.1 1487.3 2348.3C1492.0 2349.5 1496.7 2350.6 1501.3 2351.7C1506.0 2352.8 1510.7 2353.9 1515.4 2354.9C1520.0 2355.9 1524.7 2356.9 1529.4 2357.8C1534.1 2358.7 1538.8 2359.6 1543.4 2360.4C1548.1 2361.3 1552.8 2362.0 1557.5 2362.8C1562.1 2363.5 1566.8 2364.2 1571.5 2364.9C1576.2 2365.5 1580.8 2366.1 1585.5 2366.7C1590.2 2367.3 1594.9 2367.8 1599.6 2368.3C1604.2 2368.8 1608.9 2369.3 1613.6 2369.7C1618.3 2370.1 1622.9 2370.5 1627.6 2370.9C1632.3 2371.2 1637.0 2371.6 1641.7 2371.9C1646.3 2372.2 1651.0 2372.5 1655.7 2372.7C1660.4 2373.0 1665.0 2373.2 1669.7 2373.4C1674.4 2373.6 1679.1 2373.8 1683.7 2374.0C1688.4 2374.2 1693.1 2374.3 1697.8 2374.5C1702.5 2374.6 1707.1 2374.8 1711.8 2374.9C1716.5 2375.0 1721.2 2375.1 1725.8 2375.2C1730.5 2375.3 1735.2 2375.4 1739.9 2375.5C1744.6 2375.5 1749.2 2375.6 1753.9 2375.7C1758.6 2375.7 1763.3 2375.8 1767.9 2375.8C1772.6 2375.9 1777.3 2375.9 1782.0 2375.9C1786.6 2376.0 1791.3 2376.0 1796.0 2376.0"/>
</g>
</g>
<g stroke-width="5">
<path d="M530.4 101.0L703.9 2348.5"/>
<path d="M765.8 95.8L998.1 2333.5"/>
</g>
<g stroke-width="10" clip-path="url(#cc)">
<path id="top_thick" d="M232.5 1112.5C237.2 1107.9 241.8 1103.0 246.5 1097.7C251.1 1092.4 255.8 1086.7 260.4 1080.6C265.1 1074.4 269.7 1067.8 274.4 1060.6C279.0 1053.4 283.7 1045.6 288.3 1037.1C293.0 1028.6 297.6 1019.4 302.3 1009.4C307.0 999.5 311.6 988.8 316.3 977.2C320.9 965.6 325.6 953.2 330.2 939.9C334.9 926.7 339.5 912.7 344.2 898.2C348.8 883.7 353.5 868.8 358.1 853.3C362.8 837.8 367.4 821.9 372.1 805.4C376.8 788.9 381.4 771.9 386.1 754.4C390.7 736.9 395.4 719.0 400.0 700.9C404.7 682.7 409.3 664.2 414.0 645.8C418.6 627.4 423.3 609.1 427.9 591.1C432.6 573.0 437.2 555.2 441.9 537.4C446.6 519.7 451.2 501.9 455.9 484.4C460.5 466.9 465.2 449.6 469.8 433.1C474.5 416.5 479.1 400.7 483.8 386.0C488.4 371.3 493.1 357.7 497.7 345.5C502.4 333.2 507.0 321.8 511.7 311.0C516.3 300.2 521.0 290.2 525.7 281.2C530.3 272.2 535.0 264.2 539.6 257.5C544.3 250.7 548.9 245.2 553.6 241.1C558.2 237.0 562.9 234.2 567.5 232.9C572.2 231.6 576.8 231.6 581.5 232.7C586.1 233.7 590.8 235.9 595.5 239.1C600.1 242.3 604.8 246.6 609.4 251.8C614.1 256.9 618.7 263.0 623.4 269.7C628.0 276.3 632.7 283.7 637.3 291.5C642.0 299.3 646.6 307.5 651.3 316.2C655.9 324.8 660.6 333.8 665.3 343.0C669.9 352.3 674.6 361.8 679.2 371.5C683.9 381.2 688.5 390.9 693.2 400.6C697.8 410.4 702.5 420.0 707.1 429.5C711.8 439.0 716.4 448.3 721.1 457.6C725.7 466.9 730.4 476.1 735.1 485.3C739.7 494.5 744.4 503.8 749.0 512.9C753.7 521.9 758.3 530.8 763.0 539.0C767.6 547.3 772.3 555.0 776.9 562.2C781.6 569.4 786.2 576.2 790.9 582.7C795.5 589.2 800.2 595.4 804.9 601.5C809.5 607.5 814.2 613.4 818.8 619.2C823.5 625.0 828.1 630.7 832.8 636.3C837.4 642.0 842.1 647.7 846.7 653.6C851.4 659.5 856.0 665.4 860.7 671.4C865.3 677.3 870.0 683.3 874.7 689.4C879.3 695.5 884.0 701.6 888.6 707.9C893.3 714.2 897.9 720.5 902.6 727.0C907.2 733.5 911.9 740.0 916.5 746.7C921.2 753.3 925.8 760.1 930.5 766.9C935.1 773.6 939.8 780.5 944.5 787.3C949.1 794.2 953.8 801.1 958.4 808.0C963.1 814.9 967.7 821.7 972.4 828.6C977.0 835.4 981.7 842.2 986.3 848.9C991.0 855.7 995.6 862.3 1000.3 868.9C1004.9 875.5 1009.6 882.1 1014.2 888.5C1018.9 894.9 1023.6 901.3 1028.2 907.5C1032.9 913.8 1037.5 919.9 1042.2 925.9C1046.8 931.9 1051.5 937.8 1056.1 943.6C1060.8 949.3 1065.4 955.0 1070.1 960.5C1074.7 965.9 1079.4 971.3 1084.0 976.5C1088.7 981.8 1093.4 986.9 1098.0 991.9C1102.7 996.9 1107.3 1001.8 1112.0 1006.6C1116.6 1011.4 1121.3 1016.1 1125.9 1020.7C1130.6 1025.3 1135.2 1029.8 1139.9 1034.2C1144.5 1038.7 1149.2 1042.9 1153.8 1046.9C1158.5 1051.0 1163.2 1054.8 1167.8 1058.5C1172.5 1062.2 1177.1 1065.8 1181.8 1069.1C1186.4 1072.5 1191.1 1075.7 1195.7 1078.8C1200.4 1081.9 1205.0 1084.8 1209.7 1087.6C1214.3 1090.4 1219.0 1093.1 1223.6 1095.6C1228.3 1098.2 1233.0 1100.6 1237.6 1103.0C1242.3 1105.3 1246.9 1107.5 1251.6 1109.6C1256.2 1111.7 1260.9 1113.8 1265.5 1115.7C1270.2 1117.6 1274.8 1119.4 1279.5 1121.2C1284.1 1122.9 1288.8 1124.6 1293.4 1126.2C1298.1 1127.8 1302.8 1129.3 1307.4 1130.7C1312.1 1132.1 1316.7 1133.5 1321.4 1134.8C1326.0 1136.2 1330.7 1137.4 1335.3 1138.6C1340.0 1139.9 1344.6 1141.0 1349.3 1142.1C1353.9 1143.3 1358.6 1144.4 1363.2 1145.4C1367.9 1146.5 1372.6 1147.5 1377.2 1148.4C1381.9 1149.4 1386.5 1150.4 1391.2 1151.3C1395.8 1152.2 1400.5 1153.0 1405.1 1153.9C1409.8 1154.7 1414.4 1155.5 1419.1 1156.3C1423.7 1157.1 1428.4 1157.8 1433.0 1158.6C1437.7 1159.3 1442.4 1160.0 1447.0 1160.7C1451.7 1161.4 1456.3 1162.0 1461.0 1162.6C1465.6 1163.3 1470.3 1163.9 1474.9 1164.5C1479.6 1165.1 1484.2 1165.7 1488.9 1166.2C1493.5 1166.8 1498.2 1167.3 1502.8 1167.9C1507.5 1168.4 1512.2 1168.9 1516.8 1169.4C1521.5 1169.9 1526.1 1170.4 1530.8 1170.9C1535.4 1171.4 1540.1 1171.9 1544.7 1172.3C1549.4 1172.8 1554.0 1173.2 1558.7 1173.7C1563.3 1174.1 1568.0 1174.5 1572.6 1174.9C1577.3 1175.3 1581.9 1175.7 1586.6 1176.1C1591.3 1176.5 1595.9 1176.8 1600.6 1177.2C1605.2 1177.5 1609.9 1177.9 1614.5 1178.2C1619.2 1178.6 1623.8 1178.9 1628.5 1179.2C1633.1 1179.5 1637.8 1179.8 1642.4 1180.1C1647.1 1180.4 1651.7 1180.7 1656.4 1181.0C1661.1 1181.3 1665.7 1181.6 1670.4 1181.8C1675.0 1182.1 1679.7 1182.4 1684.3 1182.6C1689.0 1182.9 1693.6 1183.1 1698.3 1183.4C1702.9 1183.6 1707.6 1183.8 1712.2 1184.1C1716.9 1184.3 1721.5 1184.5 1726.2 1184.7C1730.9 1185.0 1735.5 1185.2 1740.2 1185.4C1744.8 1185.6 1749.5 1185.8 1754.1 1186.0C1758.8 1186.2 1763.4 1186.4 1768.1 1186.6C1772.7 1186.8 1777.4 1187.0 1782.0 1187.2C1786.7 1187.4 1791.3 1187.5 1796.0 1187.7"/>
<path id="mid_thick" d="M232.5 1775.8C237.2 1775.3 241.8 1774.8 246.5 1774.1C251.1 1773.5 255.8 1772.9 260.4 1772.1C265.1 1771.4 269.7 1770.6 274.4 1769.7C279.0 1768.8 283.7 1767.8 288.3 1766.7C293.0 1765.7 297.6 1764.5 302.3 1763.3C307.0 1762.1 311.6 1760.8 316.3 1759.5C320.9 1758.2 325.6 1756.7 330.2 1755.2C334.9 1753.6 339.5 1752.0 344.2 1750.2C348.8 1748.3 353.5 1746.3 358.1 1744.1C362.8 1741.9 367.4 1739.4 372.1 1736.7C376.8 1734.0 381.4 1731.1 386.1 1727.9C390.7 1724.7 395.4 1721.3 400.0 1717.6C404.7 1714.0 409.3 1710.1 414.0 1705.9C418.6 1701.8 423.3 1697.4 427.9 1692.8C432.6 1688.1 437.2 1683.3 441.9 1678.1C446.6 1673.0 451.2 1667.6 455.9 1662.0C460.5 1656.4 465.2 1650.6 469.8 1644.5C474.5 1638.4 479.1 1632.1 483.8 1625.6C488.4 1619.1 493.1 1612.4 497.7 1605.5C502.4 1598.7 507.0 1591.6 511.7 1584.5C516.3 1577.3 521.0 1570.0 525.7 1562.7C530.3 1555.3 535.0 1547.9 539.6 1540.5C544.3 1533.1 548.9 1525.7 553.6 1518.4C558.2 1511.0 562.9 1503.8 567.5 1496.7C572.2 1489.7 576.8 1482.8 581.5 1476.1C586.1 1469.5 590.8 1463.1 595.5 1457.1C600.1 1451.0 604.8 1445.3 609.4 1439.8C614.1 1434.2 618.7 1428.8 623.4 1423.7C628.0 1418.5 632.7 1413.6 637.3 1409.1C642.0 1404.5 646.6 1400.3 651.3 1396.4C655.9 1392.5 660.6 1389.0 665.3 1386.0C669.9 1382.9 674.6 1380.3 679.2 1378.1C683.9 1375.8 688.5 1374.0 693.2 1372.5C697.8 1371.0 702.5 1370.0 707.1 1369.3C711.8 1368.7 716.4 1368.5 721.1 1368.6C725.7 1368.7 730.4 1369.2 735.1 1370.0C739.7 1370.8 744.4 1371.9 749.0 1373.3C753.7 1374.7 758.3 1376.4 763.0 1378.3C767.6 1380.3 772.3 1382.5 776.9 1384.9C781.6 1387.3 786.2 1389.9 790.9 1392.7C795.5 1395.4 800.2 1398.2 804.9 1401.1C809.5 1404.0 814.2 1407.0 818.8 1410.0C823.5 1413.0 828.1 1416.0 832.8 1419.0C837.4 1422.1 842.1 1425.1 846.7 1428.1C851.4 1431.2 856.0 1434.2 860.7 1437.2C865.3 1440.2 870.0 1443.2 874.7 1446.1C879.3 1449.0 884.0 1451.9 888.6 1454.7C893.3 1457.6 897.9 1460.4 902.6 1463.1C907.2 1465.9 911.9 1468.6 916.5 1471.3C921.2 1473.9 925.8 1476.5 930.5 1479.1C935.1 1481.7 939.8 1484.2 944.5 1486.7C949.1 1489.2 953.8 1491.7 958.4 1494.1C963.1 1496.6 967.7 1499.0 972.4 1501.4C977.0 1503.8 981.7 1506.2 986.3 1508.6C991.0 1511.0 995.6 1513.5 1000.3 1515.9C1004.9 1518.3 1009.6 1520.8 1014.2 1523.3C1018.9 1525.8 1023.6 1528.3 1028.2 1530.9C1032.9 1533.5 1037.5 1536.1 1042.2 1538.8C1046.8 1541.6 1051.5 1544.3 1056.1 1547.2C1060.8 1550.0 1065.4 1552.9 1070.1 1555.9C1074.7 1558.9 1079.4 1561.9 1084.0 1565.1C1088.7 1568.2 1093.4 1571.4 1098.0 1574.5C1102.7 1577.7 1107.3 1580.9 1112.0 1584.1C1116.6 1587.4 1121.3 1590.6 1125.9 1593.9C1130.6 1597.1 1135.2 1600.4 1139.9 1603.6C1144.5 1606.9 1149.2 1610.2 1153.8 1613.4C1158.5 1616.7 1163.2 1620.0 1167.8 1623.2C1172.5 1626.4 1177.1 1629.7 1181.8 1632.9C1186.4 1636.1 1191.1 1639.2 1195.7 1642.4C1200.4 1645.5 1205.0 1648.6 1209.7 1651.7C1214.3 1654.7 1219.0 1657.8 1223.6 1660.7C1228.3 1663.7 1233.0 1666.6 1237.6 1669.5C1242.3 1672.4 1246.9 1675.2 1251.6 1677.9C1256.2 1680.7 1260.9 1683.4 1265.5 1686.0C1270.2 1688.6 1274.8 1691.2 1279.5 1693.7C1284.1 1696.2 1288.8 1698.6 1293.4 1701.0C1298.1 1703.4 1302.8 1705.6 1307.4 1707.9C1312.1 1710.1 1316.7 1712.2 1321.4 1714.3C1326.0 1716.4 1330.7 1718.4 1335.3 1720.3C1340.0 1722.3 1344.6 1724.2 1349.3 1726.0C1353.9 1727.8 1358.6 1729.5 1363.2 1731.2C1367.9 1732.9 1372.6 1734.5 1377.2 1736.0C1381.9 1737.6 1386.5 1739.0 1391.2 1740.5C1395.8 1741.9 1400.5 1743.3 1405.1 1744.6C1409.8 1745.9 1414.4 1747.1 1419.1 1748.3C1423.7 1749.6 1428.4 1750.7 1433.0 1751.8C1437.7 1752.9 1442.4 1754.0 1447.0 1755.0C1451.7 1756.0 1456.3 1757.0 1461.0 1757.9C1465.6 1758.8 1470.3 1759.7 1474.9 1760.6C1479.6 1761.4 1484.2 1762.2 1488.9 1763.0C1493.5 1763.8 1498.2 1764.5 1502.8 1765.2C1507.5 1765.9 1512.2 1766.6 1516.8 1767.2C1521.5 1767.9 1526.1 1768.5 1530.8 1769.1C1535.4 1769.7 1540.1 1770.2 1544.7 1770.8C1549.4 1771.3 1554.0 1771.8 1558.7 1772.3C1563.3 1772.8 1568.0 1773.3 1572.6 1773.7C1577.3 1774.2 1581.9 1774.6 1586.6 1775.0C1591.3 1775.4 1595.9 1775.8 1600.6 1776.2C1605.2 1776.5 1609.9 1776.9 1614.5 1777.2C1619.2 1777.6 1623.8 1777.9 1628.5 1778.2C1633.1 1778.5 1637.8 1778.8 1642.4 1779.1C1647.1 1779.3 1651.7 1779.6 1656.4 1779.9C1661.1 1780.1 1665.7 1780.3 1670.4 1780.6C1675.0 1780.8 1679.7 1781.0 1684.3 1781.2C1689.0 1781.4 1693.6 1781.6 1698.3 1781.8C1702.9 1782.0 1707.6 1782.2 1712.2 1782.4C1716.9 1782.6 1721.5 1782.7 1726.2 1782.9C1730.9 1783.0 1735.5 1783.2 1740.2 1783.3C1744.8 1783.5 1749.5 1783.6 1754.1 1783.7C1758.8 1783.9 1763.4 1784.0 1768.1 1784.1C1772.7 1784.2 1777.4 1784.4 1782.0 1784.5C1786.7 1784.6 1791.3 1784.7 1796.0 1784.8"/>
<path id="bot_thick" d="M232.5 2357.5C237.2 2356.7 241.8 2355.9 246.5 2355.1C251.1 2354.3 255.8 2353.5 260.4 2352.7C265.1 2351.9 269.7 2351.0 274.4 2350.2C279.0 2349.3 283.7 2348.4 288.3 2347.5C293.0 2346.6 297.6 2345.7 302.3 2344.7C307.0 2343.8 311.6 2342.8 316.3 2341.8C320.9 2340.8 325.6 2339.8 330.2 2338.7C334.9 2337.6 339.5 2336.5 344.2 2335.3C348.8 2334.1 353.5 2332.8 358.1 2331.5C362.8 2330.2 367.4 2328.7 372.1 2327.2C376.8 2325.7 381.4 2324.0 386.1 2322.3C390.7 2320.6 395.4 2318.7 400.0 2316.8C404.7 2314.9 409.3 2312.8 414.0 2310.7C418.6 2308.5 423.3 2306.2 427.9 2303.9C432.6 2301.5 437.2 2299.0 441.9 2296.3C446.6 2293.7 451.2 2290.9 455.9 2288.0C460.5 2285.1 465.2 2282.0 469.8 2278.8C474.5 2275.6 479.1 2272.3 483.8 2268.7C488.4 2265.2 493.1 2261.6 497.7 2257.8C502.4 2254.0 507.0 2250.0 511.7 2245.9C516.3 2241.7 521.0 2237.5 525.7 2233.1C530.3 2228.7 535.0 2224.1 539.6 2219.4C544.3 2214.8 548.9 2210.0 553.6 2205.1C558.2 2200.2 562.9 2195.2 567.5 2190.2C572.2 2185.2 576.8 2180.1 581.5 2175.0C586.1 2170.0 590.8 2164.9 595.5 2159.9C600.1 2154.9 604.8 2150.0 609.4 2145.1C614.1 2140.3 618.7 2135.6 623.4 2131.0C628.0 2126.4 632.7 2122.0 637.3 2117.7C642.0 2113.5 646.6 2109.4 651.3 2105.7C655.9 2102.0 660.6 2098.6 665.3 2095.6C669.9 2092.7 674.6 2090.0 679.2 2087.8C683.9 2085.6 688.5 2083.8 693.2 2082.3C697.8 2080.9 702.5 2079.8 707.1 2079.1C711.8 2078.4 716.4 2078.0 721.1 2078.0C725.7 2077.9 730.4 2078.2 735.1 2078.7C739.7 2079.2 744.4 2079.9 749.0 2080.8C753.7 2081.8 758.3 2082.9 763.0 2084.2C767.6 2085.4 772.3 2086.8 776.9 2088.4C781.6 2089.9 786.2 2091.5 790.9 2093.1C795.5 2094.7 800.2 2096.4 804.9 2098.1C809.5 2099.8 814.2 2101.5 818.8 2103.2C823.5 2104.9 828.1 2106.5 832.8 2108.1C837.4 2109.7 842.1 2111.3 846.7 2112.8C851.4 2114.3 856.0 2115.7 860.7 2117.1C865.3 2118.4 870.0 2119.8 874.7 2121.0C879.3 2122.3 884.0 2123.5 888.6 2124.6C893.3 2125.8 897.9 2126.9 902.6 2128.0C907.2 2129.1 911.9 2130.2 916.5 2131.2C921.2 2132.3 925.8 2133.4 930.5 2134.4C935.1 2135.5 939.8 2136.6 944.5 2137.7C949.1 2138.9 953.8 2140.0 958.4 2141.2C963.1 2142.4 967.7 2143.6 972.4 2144.8C977.0 2146.1 981.7 2147.3 986.3 2148.5C991.0 2149.8 995.6 2151.0 1000.3 2152.3C1004.9 2153.7 1009.6 2155.0 1014.2 2156.4C1018.9 2157.8 1023.6 2159.2 1028.2 2160.7C1032.9 2162.2 1037.5 2163.7 1042.2 2165.3C1046.8 2166.9 1051.5 2168.5 1056.1 2170.2C1060.8 2171.8 1065.4 2173.6 1070.1 2175.4C1074.7 2177.1 1079.4 2178.9 1084.0 2180.8C1088.7 2182.7 1093.4 2184.6 1098.0 2186.5C1102.7 2188.5 1107.3 2190.5 1112.0 2192.5C1116.6 2194.5 1121.3 2196.5 1125.9 2198.6C1130.6 2200.7 1135.2 2202.8 1139.9 2204.9C1144.5 2207.0 1149.2 2209.1 1153.8 2211.3C1158.5 2213.4 1163.2 2215.6 1167.8 2217.8C1172.5 2220.0 1177.1 2222.2 1181.8 2224.4C1186.4 2226.6 1191.1 2228.8 1195.7 2231.0C1200.4 2233.2 1205.0 2235.4 1209.7 2237.7C1214.3 2239.9 1219.0 2242.1 1223.6 2244.3C1228.3 2246.6 1233.0 2248.8 1237.6 2251.0C1242.3 2253.3 1246.9 2255.5 1251.6 2257.7C1256.2 2260.0 1260.9 2262.2 1265.5 2264.4C1270.2 2266.7 1274.8 2268.9 1279.5 2271.0C1284.1 2273.2 1288.8 2275.3 1293.4 2277.4C1298.1 2279.5 1302.8 2281.6 1307.4 2283.6C1312.1 2285.6 1316.7 2287.6 1321.4 2289.6C1326.0 2291.5 1330.7 2293.4 1335.3 2295.3C1340.0 2297.2 1344.6 2299.0 1349.3 2300.8C1353.9 2302.6 1358.6 2304.4 1363.2 2306.1C1367.9 2307.8 1372.6 2309.5 1377.2 2311.2C1381.9 2312.9 1386.5 2314.5 1391.2 2316.1C1395.8 2317.7 1400.5 2319.2 1405.1 2320.7C1409.8 2322.2 1414.4 2323.7 1419.1 2325.2C1423.7 2326.6 1428.4 2328.0 1433.0 2329.4C1437.7 2330.8 1442.4 2332.1 1447.0 2333.4C1451.7 2334.7 1456.3 2336.0 1461.0 2337.2C1465.6 2338.4 1470.3 2339.6 1474.9 2340.8C1479.6 2341.9 1484.2 2343.1 1488.9 2344.2C1493.5 2345.2 1498.2 2346.3 1502.8 2347.3C1507.5 2348.3 1512.2 2349.3 1516.8 2350.3C1521.5 2351.2 1526.1 2352.1 1530.8 2353.0C1535.4 2353.9 1540.1 2354.7 1544.7 2355.6C1549.4 2356.4 1554.0 2357.1 1558.7 2357.9C1563.3 2358.6 1568.0 2359.3 1572.6 2360.0C1577.3 2360.7 1581.9 2361.4 1586.6 2362.0C1591.3 2362.6 1595.9 2363.2 1600.6 2363.7C1605.2 2364.3 1609.9 2364.8 1614.5 2365.3C1619.2 2365.8 1623.8 2366.3 1628.5 2366.7C1633.1 2367.2 1637.8 2367.6 1642.4 2368.0C1647.1 2368.4 1651.7 2368.7 1656.4 2369.1C1661.1 2369.4 1665.7 2369.8 1670.4 2370.1C1675.0 2370.4 1679.7 2370.6 1684.3 2370.9C1689.0 2371.1 1693.6 2371.4 1698.3 2371.6C1702.9 2371.8 1707.6 2372.0 1712.2 2372.2C1716.9 2372.4 1721.5 2372.6 1726.2 2372.7C1730.9 2372.9 1735.5 2373.0 1740.2 2373.1C1744.8 2373.2 1749.5 2373.4 1754.1 2373.5C1758.8 2373.6 1763.4 2373.6 1768.1 2373.7C1772.7 2373.8 1777.4 2373.9 1782.0 2373.9C1786.7 2374.0 1791.3 2374.0 1796.0 2374.1"/>
</g>
</g>
<g fill="#000">
<rect x="1182" y="880.7" width="90" height="10"/>
<rect x="1178" y="1473" width="90" height="10"/>
<rect x="1178" y="2069.5" width="90" height="10"/>
<rect x="148" y="28" width="10" height="2355"/>
<rect x="129" y="28" width="20" height="9"/>
<rect x="129" y="614" width="20" height="10"/>
<rect x="129" y="1200" width="20" height="10"/>
<rect x="129" y="1787" width="20" height="10"/>
<rect x="129" y="2374" width="20" height="9"/>
<rect x="139" y="322" width="10" height="9"/>
<rect x="139" y="908" width="10" height="9"/>
<rect x="139" y="1494" width="10" height="9"/>
<rect x="139" y="2081" width="10" height="9"/>
<rect x="232" y="2456" width="1565" height="9"/>
<rect x="232" y="2456" width="9" height="29"/>
<rect x="620" y="2456" width="10" height="29"/>
<rect x="1009" y="2456" width="10" height="29"/>
<rect x="1398" y="2456" width="10" height="29"/>
<rect x="1787" y="2456" width="10" height="29"/>
<rect x="425" y="2456" width="10" height="18"/>
<rect x="814" y="2456" width="10" height="18"/>
<rect x="1203" y="2456" width="10" height="18"/>
<rect x="1592" y="2456" width="10" height="18"/>
</g>
<rect x="918" y="28" width="881" height="591" fill="#000"/>
<rect x="925" y="35" width="2.2" height="576" fill="#d3d3d3"/>
<rect x="1787" y="35" width="4" height="576" fill="#d3d3d3"/>
<rect x="941" y="47" width="833" height="552" fill="#d3d3d3"/>
<g fill="#000">
<rect x="1049" y="74" width="3" height="374"/>
<rect x="1045" y="74" width="5" height="3"/>
<rect x="1047" y="136" width="3" height="2"/>
<rect x="1045" y="198" width="5" height="3"/>
<rect x="1047" y="260" width="3" height="2"/>
<rect x="1045" y="321" width="5" height="3"/>
<rect x="1047" y="384" width="3" height="2"/>
<rect x="1045" y="445" width="5" height="3"/>
<rect x="1069" y="465" width="576" height="3"/>
<rect x="1069" y="465" width="3" height="8"/>
<rect x="1141" y="465" width="3" height="5"/>
<rect x="1212" y="465" width="3" height="8"/>
<rect x="1284" y="465" width="3" height="5"/>
<rect x="1356" y="465" width="3" height="8"/>
<rect x="1428" y="465" width="3" height="5"/>
<rect x="1499" y="465" width="3" height="8"/>
<rect x="1571" y="465" width="3" height="5"/>
<rect x="1643" y="465" width="3" height="8"/>
<rect x="1073" y="442" width="571" height="5"/>
</g>
<g fill="none" stroke="#000" stroke-width="5.2">
<path d="M1070.3 194.8C1074.3 194.6 1078.3 194.5 1082.2 194.4C1086.2 194.3 1090.2 194.2 1094.2 194.1C1098.2 194.0 1102.2 193.9 1106.1 193.8C1110.1 193.7 1114.1 193.5 1118.1 193.4C1122.1 193.3 1126.1 193.1 1130.0 193.0C1134.0 192.9 1138.0 192.7 1142.0 192.5C1146.0 192.4 1150.0 192.2 1154.0 192.0C1157.9 191.8 1161.9 191.6 1165.9 191.4C1169.9 191.1 1173.9 190.9 1177.8 190.6C1181.8 190.4 1185.8 190.1 1189.8 189.8C1193.8 189.5 1197.8 189.2 1201.8 188.9C1205.7 188.5 1209.7 188.2 1213.7 187.8C1217.7 187.4 1221.7 187.0 1225.7 186.5C1229.6 186.1 1233.6 185.6 1237.6 185.1C1241.6 184.6 1245.6 184.1 1249.5 183.5C1253.5 183.0 1257.5 182.4 1261.5 181.7C1265.5 181.1 1269.5 180.4 1273.5 179.6C1277.4 178.9 1281.4 178.1 1285.4 177.3C1289.4 176.5 1293.4 175.7 1297.3 174.8C1301.3 173.9 1305.3 172.9 1309.3 172.0C1313.3 171.0 1317.3 170.0 1321.2 169.1C1325.2 168.1 1329.2 167.1 1333.2 166.1C1337.2 165.2 1341.2 164.2 1345.2 163.3C1349.1 162.4 1353.1 161.5 1357.1 160.7C1361.1 159.9 1365.1 159.3 1369.0 158.8C1373.0 158.3 1377.0 158.0 1381.0 157.9C1385.0 157.8 1389.0 157.8 1393.0 158.0C1396.9 158.2 1400.9 158.6 1404.9 159.1C1408.9 159.7 1412.9 160.4 1416.8 161.1C1420.8 161.9 1424.8 162.8 1428.8 163.7C1432.8 164.5 1436.8 165.5 1440.8 166.4C1444.7 167.3 1448.7 168.3 1452.7 169.2C1456.7 170.2 1460.7 171.1 1464.7 172.0C1468.6 172.9 1472.6 173.8 1476.6 174.7C1480.6 175.6 1484.6 176.4 1488.6 177.2C1492.5 178.0 1496.5 178.8 1500.5 179.5C1504.5 180.3 1508.5 181.0 1512.5 181.6C1516.4 182.3 1520.4 182.9 1524.4 183.4C1528.4 184.0 1532.4 184.5 1536.4 185.0C1540.3 185.5 1544.3 185.9 1548.3 186.4C1552.3 186.8 1556.3 187.2 1560.2 187.5C1564.2 187.9 1568.2 188.2 1572.2 188.5C1576.2 188.8 1580.2 189.1 1584.2 189.4C1588.1 189.7 1592.1 189.9 1596.1 190.1C1600.1 190.4 1604.1 190.6 1608.1 190.8C1612.0 191.0 1616.0 191.2 1620.0 191.4C1624.0 191.6 1628.0 191.8 1632.0 191.9C1635.9 192.1 1639.9 192.2 1643.9 192.4"/>
<path d="M1070.8 317.0C1074.8 316.0 1078.8 314.8 1082.7 313.6C1086.7 312.4 1090.7 311.0 1094.7 309.5C1098.7 307.9 1102.6 306.2 1106.6 304.4C1110.6 302.5 1114.6 300.5 1118.6 298.2C1122.5 296.0 1126.5 293.6 1130.5 291.1C1134.5 288.5 1138.5 285.8 1142.4 283.0C1146.4 280.1 1150.4 277.1 1154.4 274.0C1158.4 271.0 1162.3 267.8 1166.3 264.6C1170.3 261.4 1174.3 258.1 1178.3 254.8C1182.2 251.6 1186.2 248.3 1190.2 245.1C1194.2 241.9 1198.2 238.8 1202.1 235.7C1206.1 232.7 1210.1 229.8 1214.1 227.1C1218.1 224.3 1222.0 221.7 1226.0 219.3C1230.0 216.9 1234.0 214.7 1238.0 212.6C1241.9 210.5 1245.9 208.5 1249.9 206.7C1253.9 204.8 1257.9 203.1 1261.8 201.7C1265.8 200.2 1269.8 199.0 1273.8 198.1C1277.8 197.3 1281.7 196.8 1285.7 196.7C1289.7 196.6 1293.7 196.9 1297.7 197.6C1301.6 198.3 1305.6 199.3 1309.6 200.6C1313.6 201.9 1317.6 203.5 1321.5 205.4C1325.5 207.3 1329.5 209.5 1333.5 211.9C1337.5 214.2 1341.4 216.8 1345.4 219.6C1349.4 222.3 1353.4 225.2 1357.3 228.3C1361.3 231.3 1365.3 234.5 1369.3 237.7C1373.3 240.9 1377.2 244.2 1381.2 247.6C1385.2 250.9 1389.2 254.2 1393.2 257.5C1397.1 260.8 1401.1 264.0 1405.1 267.2C1409.1 270.4 1413.1 273.4 1417.0 276.4C1421.0 279.4 1425.0 282.2 1429.0 285.0C1433.0 287.7 1436.9 290.3 1440.9 292.7C1444.9 295.1 1448.9 297.4 1452.9 299.6C1456.8 301.7 1460.8 303.7 1464.8 305.5C1468.8 307.4 1472.8 309.1 1476.7 310.6C1480.7 312.2 1484.7 313.6 1488.7 314.9C1492.7 316.2 1496.6 317.4 1500.6 318.5C1504.6 319.6 1508.6 320.5 1512.6 321.4C1516.5 322.3 1520.5 323.1 1524.5 323.8C1528.5 324.5 1532.5 325.2 1536.4 325.7C1540.4 326.3 1544.4 326.8 1548.4 327.3C1552.4 327.8 1556.3 328.2 1560.3 328.6C1564.3 329.0 1568.3 329.3 1572.3 329.6C1576.2 329.9 1580.2 330.2 1584.2 330.4C1588.2 330.7 1592.2 330.9 1596.1 331.1C1600.1 331.3 1604.1 331.5 1608.1 331.6C1612.1 331.8 1616.0 331.9 1620.0 332.1C1624.0 332.2 1628.0 332.3 1632.0 332.4C1635.9 332.6 1639.9 332.7 1643.9 332.8"/>
</g>
<g font-family="'Liberation Sans', Arial, sans-serif" fill="#000">
<text id="xt100" transform="translate(0 2577.6) scale(1 1.03)" font-size="69.5" x="160.1 211.2 262.2" y="0">100</text>
<text id="xt150" transform="translate(0 2577.6) scale(1 1.03)" font-size="69.5" x="549.0 600.0 651.1" y="0">150</text>
<text id="xt200" transform="translate(0 2577.6) scale(1 1.03)" font-size="69.5" x="937.8 988.9 1040.0" y="0">200</text>
<text id="xt250" transform="translate(0 2577.6) scale(1 1.03)" font-size="69.5" x="1326.7 1377.8 1428.8" y="0">250</text>
<text id="xt300" transform="translate(0 2577.6) scale(1 1.03)" font-size="69.5" x="1715.5 1766.7 1817.8" y="0">300</text>
<text id="xtitle" transform="translate(0 2687.6) scale(1 1.0)" font-size="69.5" x="665.3 718.8 769.0 844.7 894.0 945.4 974.5 1026.0 1050.8 1099.2 1127.8 1178.9 1204.4 1233.9 1268.3 1336.8" y="0">Temperature (°C)</text>
<text id="ytitle" transform="translate(74.4 0) rotate(-90) scale(1 1.0)" font-size="69.5" x="-1754.6 -1723.5 -1672.8 -1649.8 -1598.1 -1572.2 -1522.0 -1496.7 -1471.4 -1405.5 -1335.3 -1299.0 -1274.3 -1225.2 -1174.7 -1130.4 -1080.2 -1051.9 -1003.5 -981.5 -957.3 -909.0 -859.8 -835.2 -805.2 -756.4 -730.0 -682.2 -655.6" y="0">rate of CO<tspan font-size="51" dy="20.40">2</tspan><tspan dy="-20.40"> desorption (a.u.)</tspan></text>
<text id="lg1" transform="translate(0 908.1) scale(1 1.02)" font-size="52" x="1321.4 1371.1 1411.0 1434.7 1473.6 1496.8 1539.6 1579.1 1601.3 1641.2 1662.6 1688.6 1734.2" y="0">Cu(3)Fe(7)-Si</text>
<text id="lg2" transform="translate(0 1501.3) scale(1 1.02)" font-size="52" x="1317.3 1367.0 1406.9 1430.6 1469.5 1492.7 1535.5 1575.0 1597.2 1637.1 1658.5 1684.5 1730.1" y="0">Cu(5)Fe(5)-Si</text>
<text id="lg3" transform="translate(0 2096.9) scale(1 1.02)" font-size="52" x="1317.3 1367.0 1406.9 1430.6 1469.5 1492.7 1535.5 1575.0 1597.2 1637.1 1658.5 1684.5 1730.1" y="0">Cu(7)Fe(3)-Si</text>
<text id="it100" transform="translate(0 520.0) scale(1 1.03)" font-size="37.3" x="1028.3 1056.7 1085.1" y="0">100</text>
<text id="it150" transform="translate(0 520.0) scale(1 1.03)" font-size="37.3" x="1172.1 1200.5 1228.9" y="0">150</text>
<text id="it200" transform="translate(0 520.0) scale(1 1.03)" font-size="37.3" x="1314.4 1342.8 1371.2" y="0">200</text>
<text id="it250" transform="translate(0 520.0) scale(1 1.03)" font-size="37.3" x="1458.2 1486.6 1515.0" y="0">250</text>
<text id="it300" transform="translate(0 520.0) scale(1 1.03)" font-size="37.3" x="1602.3 1630.7 1659.1" y="0">300</text>
<text id="ititle" transform="translate(0 579.7) scale(1 1.0)" font-size="37.3" x="1161.5 1192.7 1220.3 1262.6 1290.7 1318.3 1335.8 1362.6 1377.4 1405.4 1422.5 1450.0 1463.8 1479.5 1499.8 1540.5" y="0">Temperature (°C)</text>
<text id="iytitle" transform="translate(1020.6 0) rotate(-90) scale(1 1.0)" font-size="37.3" x="-425.3 -390.3 -351.2 -329.9 -315.7 -290.1 -262.4 -235.6 -221.3 -207.1 -190.4 -162.5 -147.5 -120.6 -105.0" y="0">CO<tspan font-size="28" dy="10.60">2</tspan><tspan dy="-10.60"> des. (a.u.)</tspan></text>
<text id="icu" transform="translate(0 133.6) scale(1 1.02)" font-size="37.3" x="1413.9 1451.4 1478.9 1495.9 1524.5 1555.4 1568.2 1586.0 1620.4" y="0">Cu(10)-Si</text>
<text id="ife" transform="translate(0 262.1) scale(1 1.02)" font-size="37.3" x="1418.7 1451.0 1478.9 1495.9 1524.5 1555.4 1568.2 1586.0 1620.4" y="0">Fe(10)-Si</text>
<text id="isio" transform="translate(0 404.9) scale(1 1.03)" font-size="37.3" x="1528.9 1563.2 1573.9 1612.4" y="0">SiO<tspan font-size="28" dy="10.68">2</tspan></text>
</g>
</svg>
</body></html>
